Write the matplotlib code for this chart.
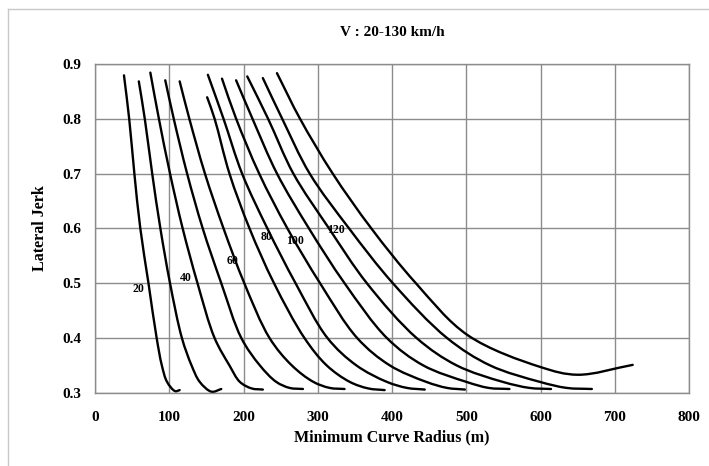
import matplotlib
matplotlib.use("Agg")
import matplotlib.pyplot as plt
from matplotlib.path import Path
from matplotlib.patches import PathPatch
from matplotlib.lines import Line2D

plt.rcParams['font.family'] = ['Liberation Serif', 'DejaVu Serif']

# speed (km/h) of each curve, radius (m) and lateral jerk
speeds = [20, 30, 40, 50, 60, 70, 80, 90, 100, 110, 120, 130]

jerk_std = [0.8, 0.7, 0.6, 0.5, 0.4, 0.35, 0.32]

r20 = [39, 46, 53, 61, 72, 83, 90, 97, 108, 114]
j20 = [0.879] + jerk_std + [0.303, 0.305]
r30 = [59, 67, 77, 88, 101, 117, 130, 141, 157, 170]
j30 = [0.868] + jerk_std + [0.302, 0.307]
r40 = [74.5, 86, 101, 118, 138, 161, 181, 195, 211, 226]
j40 = [0.884] + jerk_std + [0.308, 0.306]
r50 = [94.6, 106, 124, 145, 170, 197, 222, 244, 262, 280]
j50 = [0.870] + jerk_std + [0.309, 0.307]
r60 = [114, 127, 148, 173, 201, 235, 265, 294, 316, 336]
j60 = [0.868] + jerk_std + [0.309, 0.307]
r70 = [151, 161, 181, 208, 241, 282, 312, 343, 368, 390]
j70 = [0.839] + jerk_std + [0.308, 0.305]
r80 = [152, 173, 198, 232, 270, 313, 352, 393, 420, 444]
j80 = [0.880] + jerk_std + [0.309, 0.306]
r90 = [171, 190, 221, 259, 303, 353, 397, 446, 474, 498]
j90 = [0.873] + jerk_std + [0.309, 0.306]
r100 = [190, 212, 245, 288, 336, 393, 442, 500, 530, 558]
j100 = [0.870] + jerk_std + [0.309, 0.307]
r110 = [205, 233, 267, 315, 366, 433, 487, 549, 585, 614]
j110 = [0.877] + jerk_std + [0.309, 0.307]
r120 = [226, 252, 289, 342, 401, 474, 532, 599, 635, 669]
j120 = [0.874] + jerk_std + [0.309, 0.307]
r130 = [245, 276, 320, 372, 432, 502, 600, 650, 724]
j130 = [0.883, 0.8, 0.7, 0.6, 0.5, 0.405, 0.347, 0.333, 0.351]

radii = [r20, r30, r40, r50, r60, r70, r80, r90, r100, r110, r120, r130]
jerks = [j20, j30, j40, j50, j60, j70, j80, j90, j100, j110, j120, j130]

label_text = ['20', '40', '60', '80', '100', '120']
label_r = [58, 122, 185, 231, 269, 325]
label_j = [0.49, 0.51, 0.54, 0.585, 0.576, 0.597]

SX, SY = 594 / 800, 329 / 0.6   # rough px per data unit, only for smoothing


def smooth_path(xs, ys):
    # centripetal catmull-rom drawn as cubic bezier segments (like excel's smoothed line)
    P = [(x * SX, y * SY) for x, y in zip(xs, ys)]
    first = (2 * P[0][0] - P[1][0], 2 * P[0][1] - P[1][1])
    last = (2 * P[-1][0] - P[-2][0], 2 * P[-1][1] - P[-2][1])
    P = [first] + P + [last]
    verts = [(xs[0], ys[0])]
    codes = [Path.MOVETO]
    for i in range(1, len(P) - 2):
        p0, p1, p2, p3 = P[i - 1], P[i], P[i + 1], P[i + 2]
        d0 = ((p1[0] - p0[0]) ** 2 + (p1[1] - p0[1]) ** 2) ** 0.25
        d1 = ((p2[0] - p1[0]) ** 2 + (p2[1] - p1[1]) ** 2) ** 0.25
        d2 = ((p3[0] - p2[0]) ** 2 + (p3[1] - p2[1]) ** 2) ** 0.25
        c1 = [(d0 ** 2 * p2[k] - d1 ** 2 * p0[k] + (2 * d0 ** 2 + 3 * d0 * d1 + d1 ** 2) * p1[k])
              / (3 * d0 * (d0 + d1)) for k in (0, 1)]
        c2 = [(d2 ** 2 * p1[k] - d1 ** 2 * p3[k] + (2 * d2 ** 2 + 3 * d2 * d1 + d1 ** 2) * p2[k])
              / (3 * d2 * (d2 + d1)) for k in (0, 1)]
        for c in (c1, c2, p2):
            verts.append((c[0] / SX, c[1] / SY))
        codes += [Path.CURVE4] * 3
    return Path(verts, codes)


fig = plt.figure(figsize=(7.09, 4.66), dpi=100)
ax = fig.add_axes([0.134, 0.157, 0.838, 0.706])

grid_col = '#8c8c8c'
for r, j in zip(radii, jerks):
    ax.add_patch(PathPatch(smooth_path(r, j), fill=False, edgecolor='black',
                           lw=1.7, capstyle='round'))

for t, x, y in zip(label_text, label_r, label_j):
    ax.text(x, y, t, fontsize=8.5, fontweight='bold', ha='center', va='center')

ax.set_xlim(0, 800)
ax.set_ylim(0.3, 0.9)
ax.set_xticks(range(0, 801, 100))
ax.set_yticks([0.3, 0.4, 0.5, 0.6, 0.7, 0.8, 0.9])
ax.set_yticklabels(['0.3', '0.4', '0.5', '0.6', '0.7', '0.8', '0.9'])
ax.grid(True, color=grid_col, lw=1)
ax.set_axisbelow(True)
for s in ax.spines.values():
    s.set_color(grid_col)
    s.set_linewidth(1)
ax.tick_params(axis='x', length=0, labelsize=11, pad=13)
ax.tick_params(axis='y', length=0, labelsize=11, pad=10)
for lab in ax.get_xticklabels() + ax.get_yticklabels():
    lab.set_fontweight('bold')

ax.set_xlabel('Minimum Curve Radius (m)', fontsize=11.5, fontweight='bold', labelpad=4)
ax.set_ylabel('Lateral Jerk', fontsize=11.5, fontweight='bold', labelpad=10)
ax.set_title('V : 20-130 km/h', fontsize=11, fontweight='bold', pad=20)

# outer chart-area border
border = '#c8c8c8'
fig.add_artist(Line2D([8 / 709, 8 / 709], [1 - 9 / 466, 0], color=border, lw=1))
fig.add_artist(Line2D([8 / 709, 1], [1 - 9 / 466, 1 - 9 / 466], color=border, lw=1))

fig.savefig('out.png', dpi=100)
